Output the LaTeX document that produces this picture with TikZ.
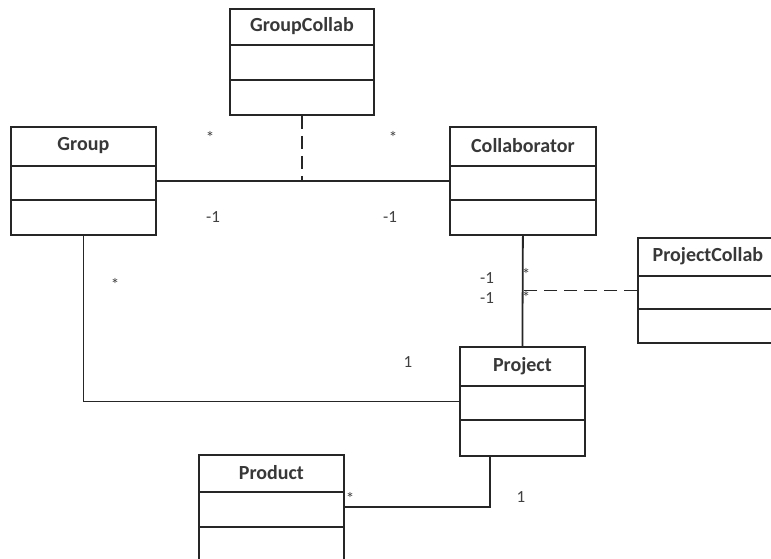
\documentclass[tikz,border=0pt]{standalone}
\usepackage{fontspec}
\setmainfont{Carlito}
\usetikzlibrary{calc}
\tikzset{
  umlline/.style={line width=1.8pt, draw=black!85},
  cls/.style={umlline, rectangle, anchor=north west, inner sep=0pt,
              minimum width=#1},
  title/.style={font=\fontsize{20}{22}\selectfont\bfseries, text=black!78},
  mult/.style={font=\fontsize{17}{19}\selectfont, text=black!75, inner sep=1pt},
  assoc/.style={umlline},
  dep/.style={umlline, dash pattern=on 13pt off 7pt},
}
% one class box: name, top-left corner, width, height, two divider offsets, title
\newcommand{\umlclass}[8]{%
  \node[cls=#3, minimum height=#4] (#1) at (#2) {};
  \draw[umlline] ($(#1.north west)+(0,#5)$) -- ($(#1.north east)+(0,#5)$);
  \draw[umlline] ($(#1.north west)+(0,#6)$) -- ($(#1.north east)+(0,#6)$);
  \node[title] (#1-name) at ($(#1.north)+(0,#5/2)$) {#7#8};
}
\begin{document}
\begin{tikzpicture}[x=1pt, y=-1pt]
  \clip (0,0) rectangle (771,558);
  \fill[white] (0,0) rectangle (771,558);

  % classes
  \umlclass{group}{10,126}{145pt}{108pt}{40}{74}{Group}{}
  \umlclass{collab}{449,126}{146pt}{108pt}{40}{74}{Collaborator}{}
  \umlclass{groupcollab}{229,8}{144pt}{106pt}{37}{72}{GroupCollab}{}
  \umlclass{projectcollab}{637,237}{140pt}{105pt}{39}{72}{ProjectCollab}{}
  \umlclass{project}{459,346}{125pt}{109pt}{40}{74}{Project}{}
  \umlclass{product}{198,454}{145pt}{126pt}{38}{73}{Product}{}

  % associations
  \draw[assoc] (group.east) -- (collab.west);
  \draw[assoc] (collab.south) -- (project.north);
  \draw[assoc] (group.south) |- (project.west);
  \coordinate (prodend) at ($(product.north east)+(0,53)$);
  \coordinate (projfoot) at ($(project.south west)+(31,0)$);
  \draw[assoc] (prodend) -| (projfoot);

  % association classes
  \draw[dep] (groupcollab.south) -- (groupcollab.south |- group.east);
  \draw[dep] (projectcollab.west) -- (projectcollab.west -| collab.south);

  % multiplicities
  \node[mult] (m1) at (210,137) {*};
  \node[mult] (m2) at (393,137) {*};
  \node[mult] (m3) at (213,217) {-1};
  \node[mult] (m4) at (390,217) {-1};
  \node[mult] (m5) at (487,278) {-1};
  \node[mult] (m6) at (487,298) {-1};
  \node[mult] (m7) at (526,274) {*};
  \node[mult] (m8) at (526,297) {*};
  \node[mult] (m9) at (115,284) {*};
  \node[mult] (m10) at (408,362) {1};
  \node[mult] (m11) at (350,498) {*};
  \node[mult] (m12) at (521,497) {1};
\end{tikzpicture}
\end{document}
